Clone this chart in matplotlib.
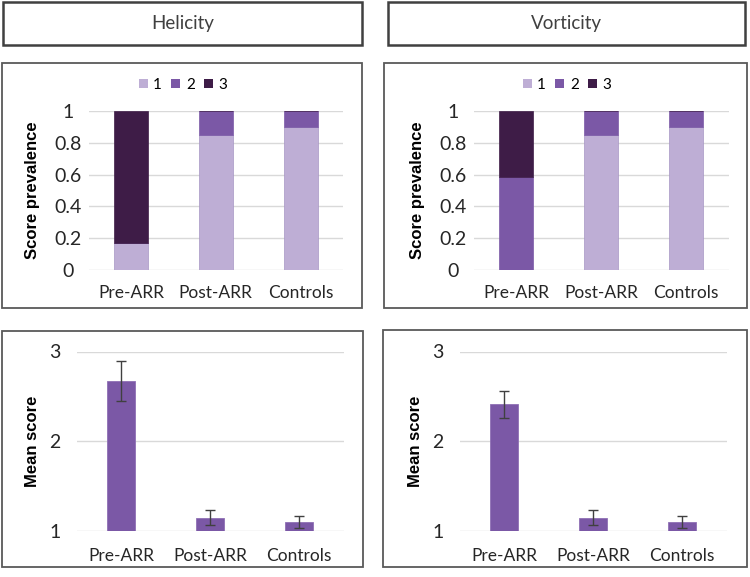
import matplotlib
matplotlib.use("Agg")
import matplotlib.pyplot as plt
from matplotlib.patches import Rectangle, Patch
import numpy as np

categories = ['Pre-ARR', 'Post-ARR', 'Controls']
score_labels = ['1', '2', '3']

heli_s1 = [0.167, 0.85, 0.90]
heli_s2 = [0.0, 0.15, 0.10]
heli_s3 = [0.833, 0.0, 0.0]

vort_s1 = [0.0, 0.85, 0.90]
vort_s2 = [0.583, 0.15, 0.10]
vort_s3 = [0.417, 0.0, 0.0]

heli_mean = [2.67, 1.15, 1.10]
heli_err = [0.22, 0.08, 0.07]
vort_mean = [2.41, 1.15, 1.10]
vort_err = [0.155, 0.08, 0.07]

prev_ticks = [0, 0.2, 0.4, 0.6, 0.8, 1]
prev_tick_labels = ['0', '0.2', '0.4', '0.6', '0.8', '1']
mean_ticks = [1, 2, 3]
mean_tick_labels = ['1', '2', '3']

titles = ['Helicity', 'Vorticity']

C1 = '#BEAED5'
C2 = '#7B58A6'
C3 = '#3E1C47'
GRID = '#D9D9D9'
TXT = '#262626'
FONT = 'Lato'

W, H = 750, 577
fig = plt.figure(figsize=(W / 100, H / 100), dpi=100)

def fx(px):
    return px / W

def fy(py):
    return 1 - py / H

def box(x0, y0, x1, y1, lw=1.3, color='#595959'):
    fig.patches.append(Rectangle((fx(x0), fy(y1)), fx(x1) - fx(x0), fy(y0) - fy(y1),
                                 transform=fig.transFigure, fill=False,
                                 edgecolor=color, linewidth=lw, zorder=0))

# title boxes
box(3, 2, 362, 45, lw=1.8, color='#404040')
box(388, 2, 745, 45, lw=1.8, color='#404040')
fig.text(fx(182.5), fy(24), titles[0], ha='center', va='center', fontsize=13.5,
         family=FONT, color='#404040')
fig.text(fx(566.5), fy(24), titles[1], ha='center', va='center', fontsize=13.5,
         family=FONT, color='#404040')

# panel boxes
box(2, 63, 362, 308)
box(384, 63, 747, 308)
box(2, 331, 363, 567)
box(383, 330, 747, 567)

def style_axes(ax, ticks, labels, ypad, xpad):
    for s in ax.spines.values():
        s.set_visible(False)
    ax.set_yticks(ticks)
    ax.set_yticklabels(labels)
    ax.set_xticks(np.arange(len(categories)))
    ax.set_xticklabels(categories)
    ax.tick_params(axis='both', length=0, labelcolor=TXT)
    ax.tick_params(axis='y', pad=ypad, labelsize=14)
    ax.tick_params(axis='x', pad=xpad, labelsize=12.5)
    for lbl in ax.get_yticklabels() + ax.get_xticklabels():
        lbl.set_fontfamily(FONT)
    for lbl in ax.get_yticklabels():
        lbl.set_horizontalalignment('center')
    ax.yaxis.grid(True, color=GRID, linewidth=1.0)
    ax.set_axisbelow(True)
    ax.set_xlim(-0.5, len(categories) - 0.5)

x = np.arange(len(categories))

# top axes
top_specs = [
    ((88.5, 343), (heli_s1, heli_s2, heli_s3), 183, -0.19),
    ((473.5, 728.5), (vort_s1, vort_s2, vort_s3), 567, -0.19),
]
for (xl, xr), (s1, s2, s3), lcx, labx in top_specs:
    ax = fig.add_axes([fx(xl), fy(270), fx(xr) - fx(xl), (270 - 111) / H])
    style_axes(ax, prev_ticks, prev_tick_labels, ypad=14.5, xpad=11)
    ax.set_ylim(0, 1)
    b1 = np.array(s1)
    b2 = np.array(s2)
    b3 = np.array(s3)
    ax.bar(x, b1, width=0.4, color=C1, edgecolor='#A796C4', linewidth=0.5)
    ax.bar(x, b2, width=0.4, bottom=b1, color=C2, edgecolor=C2, linewidth=0.5)
    ax.bar(x, b3, width=0.4, bottom=b1 + b2, color=C3, edgecolor=C3, linewidth=0.5)
    ax.set_ylabel('Score prevalence', fontsize=12, fontweight='bold',
                  family='Liberation Sans', color='black')
    ax.yaxis.set_label_coords(labx, 0.5)
    handles = [Patch(facecolor=c, edgecolor='none') for c in (C1, C2, C3)]
    fig.legend(handles, score_labels, loc='center', bbox_to_anchor=(fx(lcx), fy(85)),
               ncol=3, frameon=False, handlelength=0.6, handleheight=0.6,
               handletextpad=0.35, columnspacing=0.6, borderpad=0,
               prop={'family': FONT, 'size': 11})

# bottom axes
bot_specs = [
    ((76.5, 343.5), heli_mean, heli_err, -0.137),
    ((459.5, 726.5), vort_mean, vort_err, -0.138),
]
for (xl, xr), mean, err, labx in bot_specs:
    ax = fig.add_axes([fx(xl), fy(531), fx(xr) - fx(xl), (531 - 351.5) / H])
    style_axes(ax, mean_ticks, mean_tick_labels, ypad=15.5, xpad=12)
    ax.set_ylim(1, 3)
    m = np.array(mean)
    ax.bar(x, m - 1, bottom=1, width=0.31, color=C2, edgecolor='#8F70B5', linewidth=0.6,
           yerr=err, error_kw=dict(ecolor='#404040', elinewidth=1.0, capsize=3.3,
                                   capthick=1.0))
    ax.set_ylabel('Mean score', fontsize=12, fontweight='bold',
                  family='Liberation Sans', color='black')
    ax.yaxis.set_label_coords(labx, 0.5)

fig.savefig('out.png', dpi=100)
